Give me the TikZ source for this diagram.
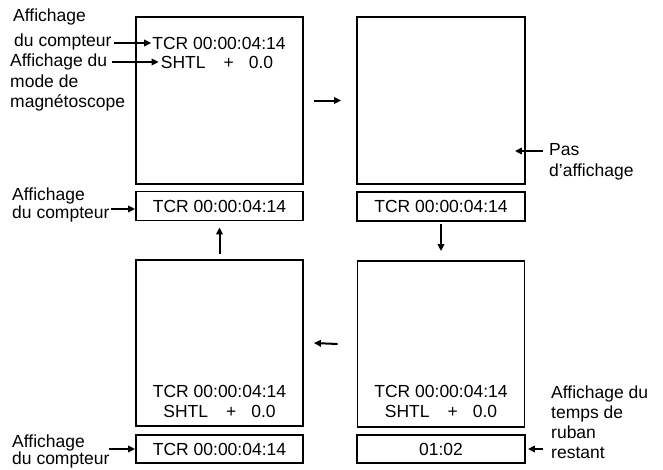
\documentclass[tikz,border=0pt]{standalone}
\usepackage{fontspec}
\setmainfont{Liberation Sans}
\usetikzlibrary{arrows.meta}
\tikzset{
  screen/.style={draw, line width=1.8pt, minimum width=167pt, minimum height=167pt, inner sep=0pt},
  strip/.style={draw, line width=1.8pt, minimum width=167pt, minimum height=28pt, inner sep=0pt},
  btxt/.style={inner sep=0pt, font=\fontsize{17.5}{20}\selectfont},
  lbl/.style={inner sep=0pt, anchor=base west, font=\fontsize{17.5}{21}\selectfont},
  arr/.style={line width=2pt, -{Triangle[length=7pt,width=6.5pt]}}
}
\newcommand{\shtlline}{SHTL\hspace{18pt}+\hspace{15pt}0.0}
\begin{document}
\begin{tikzpicture}[x=1pt,y=-1pt]
\useasboundingbox (0,0) rectangle (663,469);
% boxes
\node[screen] (s1) at (219.5,100.5) {};
\node[strip, minimum height=29pt] (c1) at (219.5,206) {};
\node[screen, minimum width=168pt] (s2) at (441,100.5) {};
\node[strip, minimum width=168pt, minimum height=29pt] (c2) at (441,206.5) {};
\node[screen, minimum height=166pt] (s3) at (441,344) {};
\node[strip, minimum width=168pt] (c3) at (441,449) {};
\node[screen, minimum height=166pt] (s4) at (219.5,343) {};
\node[strip] (c4) at (219.5,449) {};
% box texts
\node[btxt] (t1) at (219,43) {TCR 00:00:04:14};
\node[btxt] (m1) at (217,62) {\shtlline};
\node[btxt] (t1c) at (219.5,206) {TCR 00:00:04:14};
\node[btxt] (t2c) at (441,206) {TCR 00:00:04:14};
\node[btxt] (t3) at (441,391) {TCR 00:00:04:14};
\node[btxt] (m3) at (441,411) {\shtlline};
\node[btxt] (t3c) at (441,449) {01:02};
\node[btxt] (t4) at (219.5,391) {TCR 00:00:04:14};
\node[btxt] (m4) at (219.5,411) {\shtlline};
\node[btxt] (t4c) at (219.5,449) {TCR 00:00:04:14};
% labels
\node[lbl] (la1) at (13,21) {Affichage};
\node[lbl] (la2) at (14,46) {du compteur};
\node[lbl] (lb1) at (10,66) {Affichage du};
\node[lbl] (lb2) at (10,87) {mode de};
\node[lbl] (lb3) at (10,107) {magnétoscope};
\node[lbl] (lc1) at (12,200) {Affichage};
\node[lbl] (lc2) at (12,218) {du compteur};
\node[lbl] (ld1) at (12,447) {Affichage};
\node[lbl] (ld2) at (12,464) {du compteur};
\node[lbl] (lp1) at (549,155) {Pas};
\node[lbl] (lp2) at (549,176) {d'affichage};
\node[lbl] (lr1) at (551,398) {Affichage du};
\node[lbl] (lr2) at (551,418) {temps de};
\node[lbl] (lr3) at (551,438) {ruban};
\node[lbl] (lr4) at (551,458) {restant};
% label arrows
\draw[arr] ([xshift=2pt]la2.east |- t1.west) -- ([xshift=-1pt]t1.west);
\draw[arr] ([xshift=5pt]lb1.east |- m1.west) -- ([xshift=-2pt]m1.west);
\draw[arr] ([xshift=1pt,yshift=-3pt]lc2.east |- c1.west) -- ([yshift=-3pt]c1.west);
\draw[arr] ([xshift=-1pt]ld2.east |- c4.west) -- (c4.west);
\draw[arr] ([xshift=-6pt]lp1.west |- 0,151) -- ([xshift=-11pt]s2.east |- 0,151);
\draw[arr] ([xshift=-8pt]lr4.west |- c3.east) -- ([xshift=2pt]c3.east);
% flow arrows
\draw[arr] ([xshift=10pt]s1.east) -- ([xshift=-15pt]s2.west);
\draw[arr] ([yshift=-2pt]c2.south) -- ([yshift=9pt]s3.north);
\draw[arr] ([xshift=-19pt]s3.west) -- ([xshift=10pt]s4.west -| s4.east);
\draw[arr] ([yshift=5pt]s4.north) -- ([yshift=-6pt]c1.south);
\end{tikzpicture}
\end{document}
